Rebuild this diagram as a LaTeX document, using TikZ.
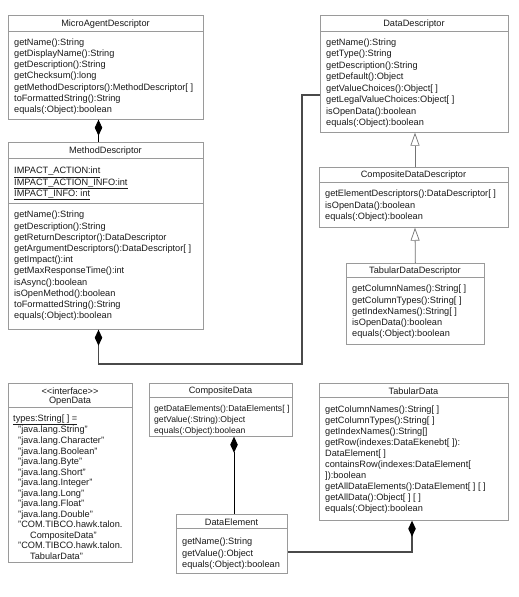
\documentclass[tikz,border=0pt]{standalone}
\usepackage{fontspec}
\setmainfont{Liberation Sans}
\usetikzlibrary{arrows.meta,calc}
\definecolor{boxgray}{HTML}{9A9A9A}
\definecolor{txt}{HTML}{1A1A1A}
\definecolor{conngray}{HTML}{4A4A4A}
\newcommand\umlbox[5]{\node[umlcls,minimum width=#4pt,minimum height=#5pt] (#1) at (#2,#3) {};}
\begin{document}
\begin{tikzpicture}[x=1pt,y=-1pt,
  umlcls/.style={draw=boxgray,line width=0.7pt,anchor=north west,inner sep=0pt,fill=white},
  divider/.style={draw=boxgray,line width=0.7pt},
  ttl/.style={anchor=center,inner sep=0pt,text=txt,font=\fontsize{9.2}{11}\selectfont},
  body/.style={anchor=north west,align=left,inner sep=0pt,text=txt,font=\fontsize{9.2}{11.2}\selectfont},
  comp/.style={draw=black,line width=0.9pt,{Diamond[length=16pt,width=7.5pt,fill=black,color=black]}-},
  compthick/.style={draw=conngray,line width=1.5pt,{Diamond[length=16pt,width=7.5pt,fill=black,color=black]}-},
  gen/.style={draw=black!55,line width=0.8pt,-{Triangle[open,length=13pt,width=9pt,line width=0.7pt,fill=white]}}
]
\useasboundingbox[fill=white] (0,0) rectangle (519,597);

% ---------- MicroAgentDescriptor
\umlbox{mad}{8}{15}{195}{104}
\draw[divider] (8,31) -- (203,31);
\node[ttl] (madt) at (105.5,24) {MicroAgentDescriptor};
\node[body] (madm) at (14,38.5) {getName():String\\getDisplayName():String\\getDescription():String\\getChecksum():long\\getMethodDescriptors():MethodDescriptor[ ]\\toFormattedString():String\\equals(:Object):boolean};

% ---------- MethodDescriptor
\umlbox{md}{8}{142}{195}{187}
\draw[divider] (8,158) -- (203,158);
\draw[divider] (8,203) -- (203,203);
\node[ttl] (mdt) at (105.5,151) {MethodDescriptor};
\node[body] (mda) at (14,167) {\underline{IMPACT\_ACTION:int}\\\underline{IMPACT\_ACTION\_INFO:int}\\\underline{IMPACT\_INFO: int}};
\node[body] (mdm) at (14,211) {getName():String\\getDescription():String\\getReturnDescriptor():DataDescriptor\\getArgumentDescriptors():DataDescriptor[ ]\\getImpact():int\\getMaxResponseTime():int\\isAsync():boolean\\isOpenMethod():boolean\\toFormattedString():String\\equals(:Object):boolean};

% ---------- DataDescriptor
\umlbox{dd}{320}{15}{188}{117}
\draw[divider] (320,31) -- (508,31);
\node[ttl] (ddt) at (414,24) {DataDescriptor};
\node[body,font=\fontsize{9.2}{11.5}\selectfont] (ddm) at (326,38.5) {getName():String\\getType():String\\getDescription():String\\getDefault():Object\\getValueChoices():Object[ ]\\getLegalValueChoices:Object[ ]\\isOpenData():boolean\\equals(:Object):boolean};

% ---------- CompositeDataDescriptor
\umlbox{cdd}{319}{167}{189}{60}
\draw[divider] (319,182) -- (508,182);
\node[ttl] (cddt) at (413.5,175.5) {CompositeDataDescriptor};
\node[body] (cddm) at (325,190) {getElementDescriptors():DataDescriptor[ ]\\isOpenData():boolean\\equals(:Object):boolean};

% ---------- TabularDataDescriptor
\umlbox{tdd}{346}{263}{138}{81}
\draw[divider] (346,277) -- (484,277);
\node[ttl] (tddt) at (415,271) {TabularDataDescriptor};
\node[body] (tddm) at (352,285) {getColumnNames():String[ ]\\getColumnTypes():String[ ]\\getIndexNames():String[ ]\\isOpenData():boolean\\equals(:Object):boolean};

% ---------- OpenData
\umlbox{od}{8}{383}{124}{179}
\draw[divider] (8,407) -- (132,407);
\node[ttl,align=center,font=\fontsize{9.2}{9}\selectfont] (odt) at (70,396.5) {<{}<interface>{}>\\OpenData};
\node[body,font=\fontsize{9.2}{10.55}\selectfont] (odm) at (13,414.5) {\underline{types:String[ ] =}\\
\hspace*{5pt}"java.lang.String"\\
\hspace*{5pt}"java.lang.Character"\\
\hspace*{5pt}"java.lang.Boolean"\\
\hspace*{5pt}"java.lang.Byte"\\
\hspace*{5pt}"java.lang.Short"\\
\hspace*{5pt}"java.lang.Integer"\\
\hspace*{5pt}"java.lang.Long"\\
\hspace*{5pt}"java.lang.Float"\\
\hspace*{5pt}"java.lang.Double"\\
\hspace*{5pt}"COM.TIBCO.hawk.talon.\\
\hspace*{17pt}CompositeData"\\
\hspace*{5pt}"COM.TIBCO.hawk.talon.\\
\hspace*{17pt}TabularData"};

% ---------- CompositeData
\umlbox{cd}{149}{383}{143}{53}
\draw[divider] (149,397) -- (292,397);
\node[ttl] (cdt) at (220.5,391) {CompositeData};
\node[body,font=\fontsize{8.6}{11.2}\selectfont] (cdm) at (154,405) {getDataElements():DataElements[ ]\\getValue(:String):Object\\equals(:Object):boolean};

% ---------- DataElement
\umlbox{de}{176}{514}{111}{59}
\draw[divider] (176,528) -- (287,528);
\node[ttl] (det) at (231.5,522) {DataElement};
\node[body] (dem) at (182,538) {getName():String\\getValue():Object\\equals(:Object):boolean};

% ---------- TabularData
\umlbox{td}{319}{383}{189}{137}
\draw[divider] (319,397) -- (508,397);
\node[ttl] (tdt) at (413.5,391) {TabularData};
\node[body,font=\fontsize{9.2}{11}\selectfont] (tdm) at (325,406) {getColumnNames():String[ ]\\getColumnTypes():String[ ]\\getIndexNames():String[]\\getRow(indexes:DataEkenebt[ ]):\\DataElement[ ]\\containsRow(indexes:DataElement[\\]):boolean\\getAllDataElements():DataElement[ ] [ ]\\getAllData():Object[ ] [ ]\\equals(:Object):boolean};

% ---------- connectors
% MicroAgentDescriptor <>-- MethodDescriptor
\draw[comp] ($(mad.south west)+(90.5,0)$) -- ($(md.north west)+(90.5,0)$);
% MethodDescriptor <>-- DataDescriptor
\coordinate (bend1) at (302,364);
\draw[compthick] ($(md.south west)+(90.5,0)$) |- (bend1) |- ($(dd.north west)+(0,80)$);
% generalizations
\draw[gen] ($(cdd.north west)+(96,0)$) -- ($(dd.south west)+(95,0)$);
\draw[gen] (tdd.north) -- ($(cdd.south west)+(96,0)$);
% CompositeData <>-- DataElement
\draw[comp] ($(cd.south west)+(85,0)$) -- ($(de.north west)+(58,0)$);
% TabularData <>-- DataElement
\draw[compthick] ($(td.south west)+(93,0)$) |- ($(de.north east)+(0,38)$);
\end{tikzpicture}
\end{document}
